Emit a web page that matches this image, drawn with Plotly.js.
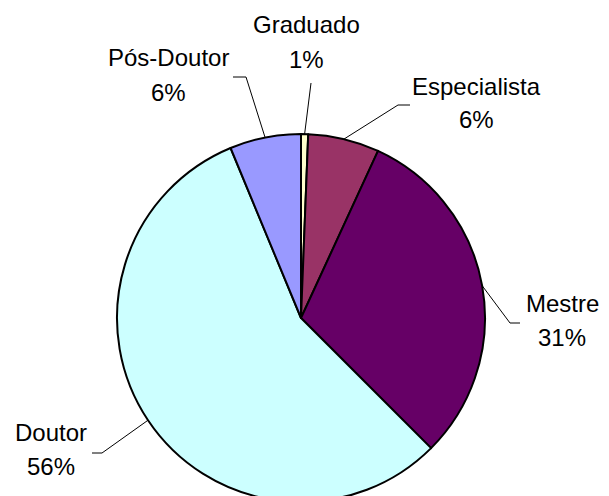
<!DOCTYPE html>
<html>
<head>
<meta charset="utf-8">
<script src="https://cdn.plot.ly/plotly-3.0.1.min.js"></script>
<style>
html,body{margin:0;padding:0;overflow:hidden;background:#fff;}
#chart{width:609px;height:520px;}
</style>
</head>
<body>
<div id="chart"></div>
<script>
// Data (order clockwise from 12 o'clock)
const categories = ["Graduado", "Especialista", "Mestre", "Doutor", "Pós-Doutor"];
const counts = [1, 10, 49, 90, 10];
const percentLabels = ["1%", "6%", "31%", "56%", "6%"];
const colors = ["#FFFFCC", "#993366", "#660066", "#CCFFFF", "#9999FF"];

// Geometry / style (pixels)
const W = 609, H = 520;
const M = {l: 117, r: 124, t: 134, b: 18};
const cx = M.l + (W - M.l - M.r) / 2;
const cy = M.t + (H - M.t - M.b) / 2;
const R = Math.min(W - M.l - M.r, H - M.t - M.b) / 2;
const FS = 24;
const LINE_GAP = 34;

// label: text center x, cap-center y of first line; leader elbow (ex,ey) and end x (hx)
const labelStyle = {
  "Graduado":     {tx: 306, ty: 25,  ex: 311, ey: 83,  hx: 311},
  "Especialista": {tx: 476, ty: 86,  ex: 398, ey: 105, hx: 410},
  "Mestre":       {tx: 562, ty: 303, ex: 510, ey: 323, hx: 520},
  "Doutor":       {tx: 51,  ty: 432, ex: 102, ey: 453, hx: 92},
  "Pós-Doutor":   {tx: 168, ty: 58,  ex: 246, ey: 77,  hx: 233}
};

const total = counts.reduce((a, b) => a + b, 0);
const toPX = x => (x - M.l) / (W - M.l - M.r);
const toPY = y => (H - M.b - y) / (H - M.t - M.b);
const font = {family: 'Liberation Sans, Arial, sans-serif', size: FS, color: '#000'};

const annotations = [];
const shapes = [];
let cum = 0;
categories.forEach((c, i) => {
  const mid = (cum + counts[i] / 2) / total * 2 * Math.PI;
  cum += counts[i];
  const px = cx + R * Math.sin(mid);
  const py = cy - R * Math.cos(mid);
  const s = labelStyle[c];
  [c, percentLabels[i]].forEach((t, k) => {
    annotations.push({
      xref: 'paper', yref: 'paper', x: toPX(s.tx), y: toPY(s.ty + k * LINE_GAP),
      text: t, showarrow: false, xanchor: 'center', yanchor: 'middle',
      font: font
    });
  });
  shapes.push({
    type: 'path', xref: 'paper', yref: 'paper',
    path: `M ${toPX(px)} ${toPY(py)} L ${toPX(s.ex)} ${toPY(s.ey)} L ${toPX(s.hx)} ${toPY(s.ey)}`,
    line: {color: '#000', width: 1}
  });
});

const trace = {
  type: 'pie',
  labels: categories,
  values: counts,
  sort: false,
  direction: 'clockwise',
  rotation: 0,
  textinfo: 'none',
  hoverinfo: 'label+percent',
  marker: {colors: colors, line: {color: '#000', width: 2}},
  showlegend: false,
  domain: {x: [0, 1], y: [0, 1]}
};

Plotly.newPlot('chart', [trace], {
  width: W, height: H,
  margin: M,
  paper_bgcolor: '#fff', plot_bgcolor: '#fff',
  showlegend: false,
  annotations: annotations,
  shapes: shapes
}, {staticPlot: true});
</script>
</body>
</html>
